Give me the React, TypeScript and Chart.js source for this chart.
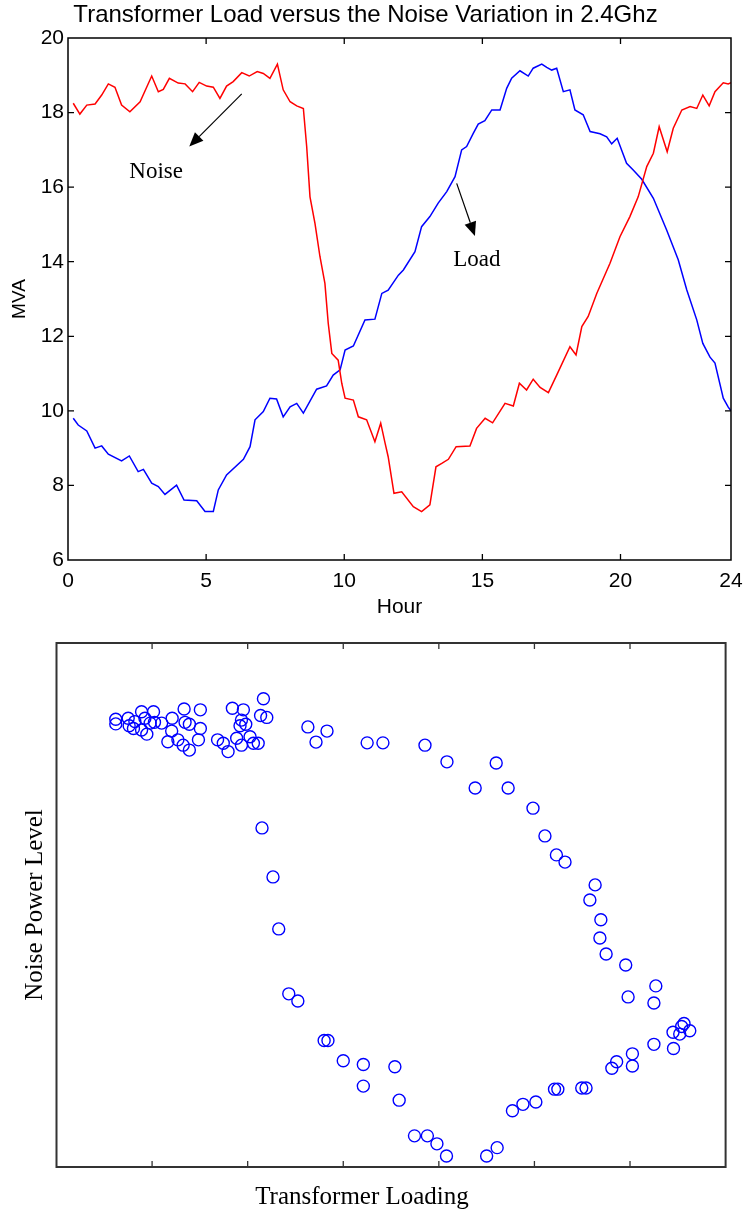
import React, { useEffect, useRef } from "react";
import { Chart, registerables } from "chart.js";

Chart.register(...registerables);

const SANS = "'Liberation Sans', Arial, Helvetica, sans-serif";
const SERIF = "'Liberation Serif', 'Times New Roman', serif";

// ---------- Top chart data (hours, MVA) ----------
const chartTitle = "Transformer Load versus the Noise Variation in 2.4Ghz";
const hourTicks = [0, 5, 10, 15, 20, 24];
const mvaTicks = [6, 8, 10, 12, 14, 16, 18, 20];

const noiseHours = [0.19, 0.43, 0.68, 0.98, 1.22, 1.46, 1.7, 1.94, 2.24, 2.61, 3.03, 3.27, 3.45, 3.67, 3.99, 4.24, 4.51, 4.75, 5.02, 5.26, 5.5, 5.74, 5.98, 6.29, 6.56, 6.85, 7.07, 7.31, 7.58, 7.79, 8.04, 8.28, 8.52, 8.64, 8.76, 8.94, 9.12, 9.3, 9.42, 9.55, 9.78, 9.91, 10.03, 10.33, 10.51, 10.81, 11.11, 11.32, 11.48, 11.59, 11.8, 12.08, 12.5, 12.8, 13.1, 13.32, 13.53, 13.77, 14.05, 14.55, 14.79, 15.1, 15.37, 15.82, 16.12, 16.34, 16.6, 16.84, 17.09, 17.39, 17.69, 18.17, 18.39, 18.6, 18.83, 19.14, 19.62, 19.98, 20.34, 20.64, 20.95, 21.19, 21.4, 21.69, 21.91, 22.22, 22.52, 22.76, 22.98, 23.21, 23.42, 23.72, 23.9, 24.0];
const noiseValues = [18.25, 17.96, 18.2, 18.23, 18.47, 18.77, 18.68, 18.2, 18.02, 18.29, 18.98, 18.56, 18.62, 18.92, 18.79, 18.77, 18.56, 18.81, 18.71, 18.68, 18.38, 18.71, 18.83, 19.07, 18.98, 19.1, 19.05, 18.92, 19.3, 18.61, 18.29, 18.18, 18.11, 17.09, 15.74, 15.03, 14.14, 13.42, 12.35, 11.54, 11.36, 10.74, 10.34, 10.29, 9.84, 9.76, 9.17, 9.67, 9.13, 8.77, 7.79, 7.83, 7.43, 7.3, 7.48, 8.5, 8.59, 8.7, 9.04, 9.06, 9.53, 9.8, 9.68, 10.2, 10.13, 10.74, 10.56, 10.85, 10.63, 10.49, 10.96, 11.72, 11.5, 12.26, 12.53, 13.15, 13.96, 14.67, 15.21, 15.74, 16.55, 16.91, 17.62, 16.95, 17.58, 18.07, 18.16, 18.11, 18.47, 18.18, 18.56, 18.8, 18.77, 18.8];

const loadHours = [0.19, 0.37, 0.68, 0.98, 1.22, 1.46, 1.94, 2.22, 2.54, 2.73, 3.03, 3.27, 3.51, 3.93, 4.2, 4.66, 4.96, 5.26, 5.44, 5.74, 6.35, 6.59, 6.77, 7.07, 7.31, 7.55, 7.79, 8.04, 8.28, 8.52, 9.0, 9.36, 9.6, 9.85, 10.03, 10.33, 10.75, 11.11, 11.36, 11.59, 11.96, 12.14, 12.56, 12.8, 13.1, 13.4, 13.71, 14.01, 14.25, 14.43, 14.67, 14.85, 15.09, 15.34, 15.64, 15.88, 16.06, 16.36, 16.66, 16.84, 17.15, 17.33, 17.51, 17.69, 17.93, 18.17, 18.35, 18.65, 18.9, 19.26, 19.5, 19.68, 19.88, 20.22, 20.46, 20.77, 21.19, 21.67, 22.09, 22.4, 22.76, 22.98, 23.24, 23.42, 23.72, 23.9, 24.0];
const loadValues = [9.8, 9.62, 9.46, 9.0, 9.06, 8.84, 8.66, 8.79, 8.37, 8.43, 8.06, 7.97, 7.76, 8.01, 7.61, 7.59, 7.3, 7.3, 7.88, 8.28, 8.7, 9.04, 9.76, 9.98, 10.34, 10.32, 9.84, 10.11, 10.2, 9.94, 10.58, 10.67, 10.96, 11.1, 11.63, 11.74, 12.44, 12.46, 13.15, 13.24, 13.64, 13.78, 14.27, 14.94, 15.21, 15.57, 15.88, 16.28, 17.0, 17.09, 17.44, 17.69, 17.78, 18.07, 18.07, 18.65, 18.92, 19.12, 18.98, 19.19, 19.3, 19.21, 19.14, 19.19, 18.56, 18.61, 18.07, 17.94, 17.49, 17.43, 17.35, 17.16, 17.31, 16.64, 16.46, 16.21, 15.7, 14.85, 14.05, 13.24, 12.44, 11.81, 11.44, 11.28, 10.34, 10.1, 10.0];

// annotation arrows (data units: hour, MVA)
const noteLabels = ["Noise", "Load"];
const noteLabelHour = [3.19, 14.8];
const noteLabelMVA = [16.41, 14.05];
const arrowFromHour = [6.29, 14.07];
const arrowFromMVA = [18.5, 16.1];
const arrowToHour = [4.39, 14.73];
const arrowToMVA = [17.09, 14.69];

// ---------- Bottom chart data (loading vs noise) ----------
const loadingTicks = [6, 8, 10, 12, 14, 16, 18, 20];
const scatterLoading = [7.24, 7.24, 7.5, 7.52, 7.64, 7.78, 8.03, 7.85, 7.96, 8.05, 7.61, 7.78, 7.89, 8.2, 8.42, 8.41, 8.33, 8.54, 8.67, 9.01, 8.69, 8.78, 9.01, 8.65, 8.78, 8.97, 9.68, 9.91, 9.87, 9.84, 9.96, 9.37, 9.49, 9.59, 9.77, 9.87, 10.05, 10.12, 10.22,
  10.33, 10.27, 10.4, 11.26, 11.43, 11.66, 12.5, 12.83, 13.71, 14.17, 14.76, 15.2, 15.45, 15.97, 16.22, 16.46, 16.64, 17.27, 17.16, 17.39, 17.37, 17.5, 17.91, 17.96, 18.54, 18.5, 19.13, 19.08, 19.25, 19.04, 18.9, 18.91, 18.5, 18.05, 18.05, 17.72, 17.62, 17.08, 16.99, 16.49, 16.42, 16.03, 15.76, 15.54, 15.22, 15.0, 14.16, 13.96, 13.76, 13.49, 13.17, 12.42, 13.08, 12.42, 12.0, 11.68, 11.6, 11.05, 10.86, 10.65, 10.53, 10.3];
const scatterNoise = [18.79, 18.67, 18.82, 18.62, 18.73, 18.99, 18.99, 18.82, 18.69, 18.71, 18.55, 18.51, 18.4, 18.69, 18.82, 18.48, 18.2, 18.25, 19.06, 19.04, 18.71, 18.66, 18.55, 18.11, 17.98, 18.25, 19.08, 19.04, 18.77, 18.62, 18.66, 18.25, 18.16, 17.94, 18.29, 18.11, 18.33, 18.16, 18.16,
  19.33, 18.89, 18.84, 18.59, 18.19, 18.48, 18.17, 18.17, 18.11, 17.67, 16.98, 17.64, 16.98, 16.45, 15.72, 15.22, 15.03, 14.43, 14.03, 13.51, 13.03, 12.61, 12.32, 11.48, 11.77, 11.32, 10.78, 10.7, 10.59, 10.5, 10.55, 10.12, 10.23, 9.98, 9.66, 9.77, 9.6, 9.08, 9.08, 9.05, 9.05, 8.71, 8.65, 8.48, 7.51, 7.29, 7.29, 7.61, 7.82, 7.82, 8.76, 9.13, 9.64, 9.7, 9.8, 10.33, 10.33, 11.37, 11.56, 13.27, 14.64, 15.93];

function framePlugin(id: string, xVals: number[], yVals: number[], color: string, lw: number, tickLen: number) {
  return {
    id,
    afterDraw(chart: any) {
      const { ctx, chartArea: a, scales } = chart;
      ctx.save();
      ctx.strokeStyle = color;
      ctx.lineWidth = 1.3;
      ctx.beginPath();
      for (const v of xVals) {
        const x = scales.x.getPixelForValue(v);
        if (x <= a.left + 1 || x >= a.right - 1) continue;
        ctx.moveTo(x, a.bottom);
        ctx.lineTo(x, a.bottom - tickLen);
        ctx.moveTo(x, a.top);
        ctx.lineTo(x, a.top + tickLen);
      }
      for (const v of yVals) {
        const y = scales.y.getPixelForValue(v);
        if (y <= a.top + 1 || y >= a.bottom - 1) continue;
        ctx.moveTo(a.left, y);
        ctx.lineTo(a.left + tickLen, y);
        ctx.moveTo(a.right, y);
        ctx.lineTo(a.right - tickLen, y);
      }
      ctx.stroke();
      ctx.lineWidth = lw;
      ctx.strokeRect(a.left, a.top, a.right - a.left, a.bottom - a.top);
      ctx.restore();
    },
  };
}

const notesPlugin = {
  id: "notes",
  afterDatasetsDraw(chart: any) {
    const { ctx, scales } = chart;
    ctx.save();
    ctx.strokeStyle = "#000";
    ctx.fillStyle = "#000";
    ctx.lineWidth = 1.2;
    for (let i = 0; i < noteLabels.length; i++) {
      const x0 = scales.x.getPixelForValue(arrowFromHour[i]);
      const y0 = scales.y.getPixelForValue(arrowFromMVA[i]);
      const x1 = scales.x.getPixelForValue(arrowToHour[i]);
      const y1 = scales.y.getPixelForValue(arrowToMVA[i]);
      const ang = Math.atan2(y1 - y0, x1 - x0);
      const len = 14;
      const hw = 6;
      const bx = x1 - len * Math.cos(ang);
      const by = y1 - len * Math.sin(ang);
      ctx.beginPath();
      ctx.moveTo(x0, y0);
      ctx.lineTo(bx, by);
      ctx.stroke();
      ctx.beginPath();
      ctx.moveTo(x1, y1);
      ctx.lineTo(bx + hw * Math.sin(ang), by - hw * Math.cos(ang));
      ctx.lineTo(bx - hw * Math.sin(ang), by + hw * Math.cos(ang));
      ctx.closePath();
      ctx.fill();
      ctx.font = `23px ${SERIF}`;
      ctx.textAlign = "center";
      ctx.textBaseline = "middle";
      ctx.fillText(noteLabels[i], scales.x.getPixelForValue(noteLabelHour[i]), scales.y.getPixelForValue(noteLabelMVA[i]));
    }
    ctx.restore();
  },
};

const scatterXTitle = "Transformer Loading";
const scatterXTitlePlugin = {
  id: "scatterXTitle",
  afterDraw(chart: any) {
    const { ctx } = chart;
    ctx.save();
    ctx.fillStyle = "#000";
    ctx.font = `25px ${SERIF}`;
    ctx.textAlign = "center";
    ctx.textBaseline = "middle";
    ctx.fillText(scatterXTitle, 362, 577);
    ctx.restore();
  },
};

export default function App() {
  const topRef = useRef<HTMLCanvasElement | null>(null);
  const botRef = useRef<HTMLCanvasElement | null>(null);

  useEffect(() => {
    const top = new Chart(topRef.current as HTMLCanvasElement, {
      type: "line",
      data: {
        datasets: [
          {
            label: "Noise",
            data: noiseHours.map((h, i) => ({ x: h, y: noiseValues[i] })),
            borderColor: "#ff0000",
            borderWidth: 1.5,
            pointRadius: 0,
            fill: false,
            tension: 0,
          },
          {
            label: "Load",
            data: loadHours.map((h, i) => ({ x: h, y: loadValues[i] })),
            borderColor: "#0000ff",
            borderWidth: 1.5,
            pointRadius: 0,
            fill: false,
            tension: 0,
          },
        ],
      },
      options: {
        animation: false,
        responsive: false,
        devicePixelRatio: 1,
        layout: { padding: { left: 0, right: 13, top: 0, bottom: 0 } },
        plugins: {
          legend: { display: false },
          tooltip: { enabled: false },
          title: {
            display: true,
            text: chartTitle,
            color: "#000",
            font: { family: SANS, size: 24, weight: "normal" },
            padding: { top: 1, bottom: 8.2 },
          },
        },
        scales: {
          x: {
            type: "linear",
            min: 0,
            max: 24,
            afterBuildTicks: (s: any) => {
              s.ticks = hourTicks.map((v) => ({ value: v }));
            },
            afterFit: (s: any) => {
              s.height = 65;
              s.paddingLeft = 0;
              s.paddingRight = 0;
            },
            grid: { display: false, drawTicks: false },
            border: { display: false },
            ticks: { color: "#000", font: { family: SANS, size: 21 }, padding: 9, maxRotation: 0, autoSkip: false },
            title: { display: true, text: "Hour", color: "#000", font: { family: SANS, size: 21 }, padding: { top: 0, bottom: 5.4 } },
          },
          y: {
            type: "linear",
            min: 6,
            max: 20,
            afterBuildTicks: (s: any) => {
              s.ticks = mvaTicks.map((v) => ({ value: v }));
            },
            afterFit: (s: any) => {
              s.width = 68;
              s.paddingTop = 0;
              s.paddingBottom = 0;
            },
            grid: { display: false, drawTicks: false },
            border: { display: false },
            ticks: { color: "#000", font: { family: SANS, size: 21 }, padding: 4, autoSkip: false },
            title: { display: true, text: "MVA", color: "#000", font: { family: SANS, size: 19 }, padding: { top: 8, bottom: 0 } },
          },
        },
      } as any,
      plugins: [framePlugin("frameTop", hourTicks, mvaTicks, "#000", 1.5, 6), notesPlugin],
    });

    const bottom = new Chart(botRef.current as HTMLCanvasElement, {
      type: "scatter",
      data: {
        datasets: [
          {
            label: "Noise vs Loading",
            data: scatterLoading.map((x, i) => ({ x, y: scatterNoise[i] })),
            borderColor: "#0000ff",
            backgroundColor: "rgba(0,0,0,0)",
            pointRadius: 6,
            pointBorderWidth: 1.4,
            pointStyle: "circle",
          },
        ],
      },
      options: {
        animation: false,
        responsive: false,
        devicePixelRatio: 1,
        layout: { padding: { left: 0, right: 18.4, top: 23, bottom: 0 } },
        plugins: { legend: { display: false }, tooltip: { enabled: false } },
        scales: {
          x: {
            type: "linear",
            min: 6,
            max: 20,
            afterFit: (s: any) => {
              s.height = 45;
              s.paddingLeft = 0;
              s.paddingRight = 0;
            },
            grid: { display: false, drawTicks: false },
            border: { display: false },
            ticks: { display: false },
          },
          y: {
            type: "linear",
            min: 7,
            max: 20.8,
            afterFit: (s: any) => {
              s.width = 56.5;
              s.paddingTop = 0;
              s.paddingBottom = 0;
            },
            grid: { display: false, drawTicks: false },
            border: { display: false },
            ticks: { display: false },
            title: {
              display: true,
              text: "Noise Power Level",
              color: "#000",
              font: { family: SERIF, size: 25 },
              padding: { top: 20, bottom: 0 },
            },
          },
        },
      } as any,
      plugins: [framePlugin("frameBottom", loadingTicks, [], "#333", 2, 6), scatterXTitlePlugin],
    });

    return () => {
      top.destroy();
      bottom.destroy();
    };
  }, []);

  return (
    <div style={{ position: "absolute", left: 0, top: 0, width: 744, height: 1212, background: "#fff" }}>
      <canvas ref={topRef} width={744} height={625} style={{ position: "absolute", left: 0, top: 0 }} />
      <canvas ref={botRef} width={744} height={592} style={{ position: "absolute", left: 0, top: 620 }} />
    </div>
  );
}
